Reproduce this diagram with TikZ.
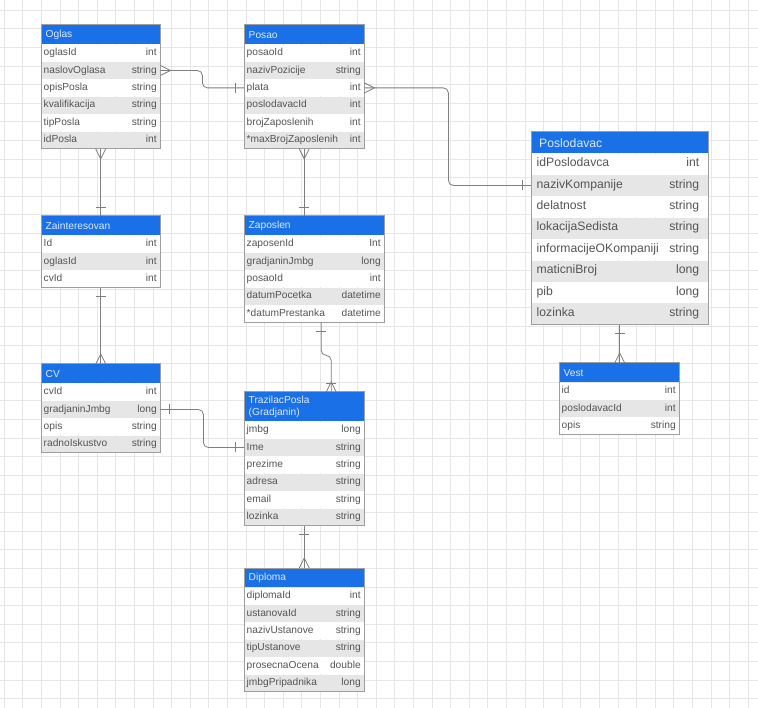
\documentclass[tikz,border=0pt]{standalone}
\usepackage{fontspec}
\setmainfont{Liberation Sans}
\usepackage{tikz}

\definecolor{hdrblue}{HTML}{1A70E6}
\definecolor{hdrtxt}{HTML}{DCE9FF}
\definecolor{rowgray}{HTML}{E6E6E6}
\definecolor{celltxt}{HTML}{555555}
\definecolor{bordergray}{HTML}{9E9E9E}
\definecolor{linkgray}{HTML}{7F7F7F}
\definecolor{gridgray}{HTML}{E6E6E6}

\tikzset{
    tblfont/.style = {font=\fontsize{10.2}{12}\selectfont},
    hdr/.style = {anchor=north west, inner sep=0pt, fill=hdrblue, minimum height=19pt},
    hdrtext/.style = {anchor=west, align=left, inner xsep=4.5pt, text=hdrtxt, tblfont},
    fieldrow/.style = {anchor=north west, inner sep=0pt, minimum height=17pt},
    fieldtext/.style = {anchor=west, inner xsep=2.5pt, inner ysep=0pt, text height=0.72em,
        text depth=0.2em, text=celltxt, tblfont},
    typetext/.style = {anchor=east, inner xsep=3.5pt, inner ysep=0pt, text height=0.72em,
        text depth=0.2em, text=celltxt, tblfont},
    tblborder/.style = {draw=bordergray, line width=1pt},
    bigtbl/.style = {tblfont/.style={font=\fontsize{12.2}{14}\selectfont},
        hdr/.append style={minimum height=21pt},
        hdrtext/.append style={inner xsep=8pt},
        fieldrow/.append style={minimum height=21pt},
        fieldtext/.append style={inner xsep=5.5pt},
        typetext/.append style={inner xsep=9pt}},
    conn/.style = {draw=linkgray, line width=0.8pt},
    gridline/.style = {draw=gridgray, line width=0.6pt},
    crowfoot/.pic = {\draw[conn] (0,-5) -- (10,0) -- (0,5);},
    onebar/.pic = {\draw[conn] (9,-5) -- (9,5);}
}

% table: [style] name, top left, width, title, field/type list
\newcommand{\ertable}[6][]{%
    \begin{scope}[#1]
        \node[hdr, minimum width=#4pt] (#2-0) at (#3) {};
        \node[hdrtext] (#2-title) at (#2-0.west) {#5};
        \foreach \fld/\typ [count=\i, remember=\i as \prev (initially 0)] in {#6} {
            \ifodd\i\relax \def\rowfill{white}\else \def\rowfill{rowgray}\fi
            \node[fieldrow, fill=\rowfill, minimum width=#4pt] (#2-\i) at (#2-\prev.south west) {};
            \node[fieldtext] (#2-\i-f) at (#2-\i.west) {\fld};
            \node[typetext] (#2-\i-t) at (#2-\i.east) {\typ};
            \xdef\lastrow{\i}
        }
        \draw[tblborder] (#2-0.north west) rectangle (#2-\lastrow.south east);
    \end{scope}
}

\begin{document}
\begin{tikzpicture}[x=1pt, y=-1pt]

    \useasboundingbox[fill=white] (0,0) rectangle (758,708);

    % grid
    \foreach \gx in {4,22.6,...,758} \draw[gridline] (\gx,0) -- (\gx,708);
    \foreach \gy in {10.2,28.8,...,708} \draw[gridline] (0,\gy) -- (758,\gy);

    % tables
    \ertable{oglas}{41,25}{119}{Oglas}{oglasId/int, naslovOglasa/string, opisPosla/string,
        kvalifikacija/string, tipPosla/string, idPosla/int}
    \ertable{posao}{244,25}{120}{Posao}{posaoId/int, nazivPozicije/string, plata/int,
        poslodavacId/int, brojZaposlenih/int, *maxBrojZaposlenih/int}
    \ertable[bigtbl]{poslodavac}{531,132}{177}{Poslodavac}{idPoslodavca/int,
        nazivKompanije/string, delatnost/string, lokacijaSedista/string,
        informacijeOKompaniji/string, maticniBroj/long, pib/long, lozinka/string}
    \ertable{zainteresovan}{41,216}{119}{Zainteresovan}{Id/int, oglasId/int, cvId/int}
    \ertable{zaposlen}{244,216}{140}{Zaposlen}{zaposenId/Int, gradjaninJmbg/long,
        posaoId/int, datumPocetka/datetime, *datumPrestanka/datetime}
    \ertable{cv}{41,364}{119}{CV}{cvId/int, gradjaninJmbg/long, opis/string,
        radnoIskustvo/string}
    \ertable[hdr/.append style={minimum height=29pt}]{trazilac}{244,392}{120}%
        {TrazilacPosla\\(Gradjanin)}{jmbg/long, Ime/string, prezime/string,
        adresa/string, email/string, lozinka/string}
    \ertable{vest}{559,363}{120}{Vest}{id/int, poslodavacId/int, opis/string}
    \ertable{diploma}{244,568}{120}{Diploma}{diplomaId/int, ustanovaId/string,
        nazivUstanove/string, tipUstanove/string, prosecnaOcena/double,
        jmbgPripadnika/long}

    % relations
    \draw[conn, rounded corners=5pt] (oglas-2.east) -- ++(42,0) |- (posao-3.west);
    \pic at (oglas-2.east) {crowfoot};
    \pic[rotate=180] at (posao-3.west) {onebar};

    \draw[conn, rounded corners=5pt] (posao-3.east) -- ++(84,0) |- (poslodavac-2.west);
    \pic at (posao-3.east) {crowfoot};
    \pic[rotate=180] at (poslodavac-2.west) {onebar};

    \draw[conn] (oglas-6.south) -- (zainteresovan-0.north);
    \pic[rotate=-90] at (oglas-6.south) {crowfoot};
    \pic[rotate=90] at (zainteresovan-0.north) {onebar};

    \draw[conn] (zainteresovan-3.south) -- (cv-0.north);
    \pic[rotate=-90] at (zainteresovan-3.south) {onebar};
    \pic[rotate=90] at (cv-0.north) {crowfoot};

    \coordinate (zapIn) at (posao-6.south |- zaposlen-0.north);
    \draw[conn] (posao-6.south) -- (zapIn);
    \pic[rotate=-90] at (posao-6.south) {crowfoot};
    \pic[rotate=90] at (zapIn) {onebar};

    \coordinate (zapOut) at ([xshift=7pt]zaposlen-5.south);
    \coordinate (trzIn) at ([xshift=27pt]trazilac-0.north);
    \draw[conn, rounded corners=5pt] (zapOut) -- ++(0,33) -| (trzIn);
    \pic[rotate=-90] at (zapOut) {onebar};
    \pic[rotate=90] at (trzIn) {crowfoot};
    \pic[rotate=90] at (trzIn) {onebar};

    \draw[conn, rounded corners=5pt] (cv-2.east) -- ++(43,0) |- (trazilac-2.west);
    \pic at (cv-2.east) {onebar};
    \pic[rotate=180] at (trazilac-2.west) {onebar};

    \draw[conn] (trazilac-6.south) -- (diploma-0.north);
    \pic[rotate=-90] at (trazilac-6.south) {onebar};
    \pic[rotate=90] at (diploma-0.north) {crowfoot};

    \coordinate (vestIn) at (poslodavac-8.south |- vest-0.north);
    \draw[conn] (poslodavac-8.south) -- (vestIn);
    \pic[rotate=-90] at (poslodavac-8.south) {onebar};
    \pic[rotate=90] at (vestIn) {crowfoot};

\end{tikzpicture}
\end{document}
